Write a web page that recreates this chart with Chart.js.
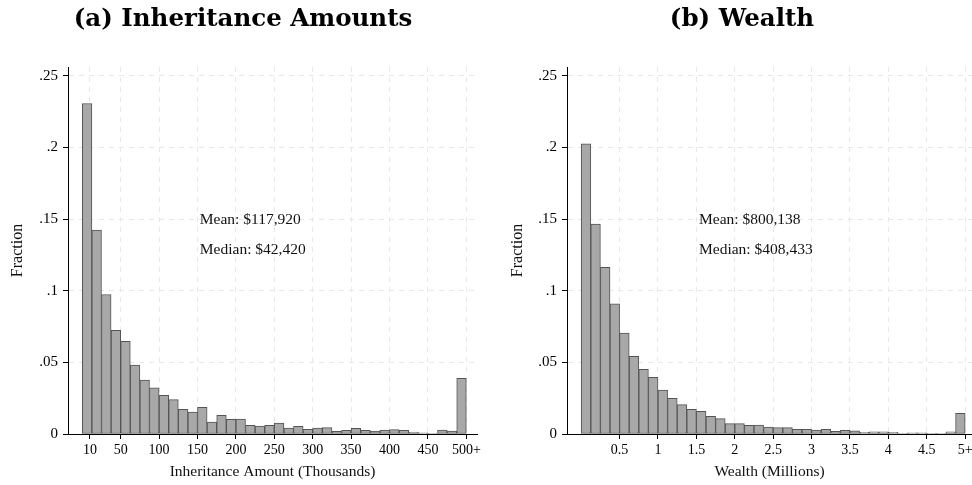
<!DOCTYPE html>
<html>
<head>
<meta charset="utf-8">
<script src="https://cdn.jsdelivr.net/npm/chart.js@4.4.1/dist/chart.umd.min.js"></script>
<style>
  html, body { margin: 0; padding: 0; background: #fff; overflow: hidden; }
  .panel { position: absolute; top: 0; width: 486px; height: 485px; }
  #panelA { left: 0; }
  #panelB { left: 486px; }
</style>
</head>
<body>
<div class="panel" id="panelA"><canvas id="chartA" width="486" height="485"></canvas></div>
<div class="panel" id="panelB"><canvas id="chartB" width="486" height="485"></canvas></div>
<script>
// fraction of people in each bin (last bin is the top-coded one)
const inhBinWidth = 12.5; // thousands
const inhShares = [
  0.2307, 0.1423, 0.0974, 0.0723, 0.0647, 0.0481, 0.0377, 0.0323, 0.0270, 0.0240,
  0.0172, 0.0153, 0.0186, 0.0084, 0.0130, 0.0102, 0.0105, 0.0060, 0.0056, 0.0060,
  0.0077, 0.0042, 0.0053, 0.0033, 0.0042, 0.0044, 0.0019, 0.0026, 0.0040, 0.0026,
  0.0021, 0.0028, 0.0030, 0.0026, 0.0014, 0.0009, 0.0005, 0.0028, 0.0020, 0.0388
];
const inhTicks = [10, 50, 100, 150, 200, 250, 300, 350, 400, 450, 500];

const wealthBinWidth = 0.125; // millions
const wealthShares = [
  0.2026, 0.1465, 0.1163, 0.0909, 0.0705, 0.0542, 0.0451, 0.0395, 0.0307, 0.0249,
  0.0205, 0.0172, 0.0158, 0.0123, 0.0107, 0.0072, 0.0072, 0.0060, 0.0063, 0.0049,
  0.0044, 0.0044, 0.0033, 0.0033, 0.0028, 0.0033, 0.0019, 0.0026, 0.0023, 0.0012,
  0.0016, 0.0016, 0.0012, 0.0005, 0.0009, 0.0009, 0.0005, 0.0005, 0.0016, 0.0144
];
const wealthTicks = [0.5, 1, 1.5, 2, 2.5, 3, 3.5, 4, 4.5, 5];

const yTicks = [0, 0.05, 0.1, 0.15, 0.2, 0.25];

const inhNotes = ['Mean: $117,920', 'Median: $42,420'];
const wealthNotes = ['Mean: $800,138', 'Median: $408,433'];

const serif = '"Liberation Serif", "Times New Roman", serif';
const gridColor = '#e8e8e8';

// panel heading + mean/median text
const textPlugin = {
  id: 'panelText',
  afterDatasetsDraw(chart, args, opts) {
    const ctx = chart.ctx;
    const xs = chart.scales.x, ys = chart.scales.y;
    ctx.save();
    ctx.fillStyle = '#111';
    ctx.font = '15.5px ' + serif;
    ctx.textAlign = 'left';
    ctx.textBaseline = 'middle';
    opts.notes.forEach((t, i) => {
      ctx.fillText(t, xs.getPixelForValue(opts.noteX), ys.getPixelForValue(opts.noteY[i]));
    });
    ctx.fillStyle = '#000';
    ctx.font = 'bold 24.5px "DejaVu Serif", serif';
    ctx.textAlign = 'center';
    ctx.textBaseline = 'alphabetic';
    ctx.fillText(opts.title, opts.titleX, 26);
    ctx.restore();
  }
};

function fracLabel(v) {
  if (v === 0) return '0';
  return String(+v.toFixed(2)).replace(/^0/, '');
}

function makeHist(id, cfg) {
  const points = cfg.shares.map((v, i) => ({ x: (i + 0.5) * cfg.binWidth, y: v }));
  return new Chart(document.getElementById(id), {
    type: 'bar',
    data: {
      datasets: [{
        data: points,
        backgroundColor: '#a8a8a8',
        borderColor: '#545454',
        borderWidth: 1,
        borderSkipped: false,
        barPercentage: 1,
        categoryPercentage: 1
      }]
    },
    options: {
      responsive: false,
      animation: false,
      layout: { padding: { top: 67, right: cfg.padRight, bottom: 0, left: 0 } },
      plugins: {
        legend: { display: false },
        tooltip: { enabled: false },
        panelText: { title: cfg.title, titleX: cfg.titleX, notes: cfg.notes, noteX: cfg.noteX, noteY: [0.1494, 0.1287] }
      },
      scales: {
        x: {
          type: 'linear',
          offset: false,
          min: cfg.xMin,
          max: cfg.xMax,
          afterBuildTicks: s => { s.ticks = cfg.ticks.map(v => ({ value: v })); },
          afterFit: s => { s.height = 51; s.paddingLeft = 0; s.paddingRight = 0; },
          ticks: {
            autoSkip: false, maxRotation: 0, padding: 3, color: '#000',
            font: { family: serif, size: 14 },
            callback: v => v === cfg.ticks[cfg.ticks.length - 1] ? v + '+' : v
          },
          grid: { offset: false, color: gridColor, tickColor: '#000', tickLength: 5, tickWidth: 1 },
          border: { color: '#000', width: 1, dash: [5, 5] },
          title: {
            display: true, text: cfg.xTitle, color: '#111',
            font: { family: serif, size: 15.5 }, padding: { top: 0, bottom: 4 }
          }
        },
        y: {
          type: 'linear',
          min: 0,
          max: 0.2562,
          afterBuildTicks: s => { s.ticks = yTicks.map(v => ({ value: v })); },
          afterFit: s => { s.width = cfg.yWidth; s.paddingTop = 0; s.paddingBottom = 0; },
          ticks: { padding: 5, color: '#000', font: { family: serif, size: 15 }, callback: fracLabel },
          grid: { color: gridColor, tickColor: '#000', tickLength: 5, tickWidth: 1 },
          border: { color: '#000', width: 1, dash: [5, 5] },
          title: {
            display: true, text: 'Fraction', color: '#111',
            font: { family: serif, size: 16 }, padding: { top: cfg.yTitlePad, bottom: 0 }
          }
        }
      }
    },
    plugins: [textPlugin]
  });
}

makeHist('chartA', {
  shares: inhShares, binWidth: inhBinWidth, ticks: inhTicks,
  xMin: -18.6, xMax: 513.9, padRight: 9, yWidth: 68, yTitlePad: 8,
  xTitle: 'Inheritance Amount (Thousands)',
  title: '(a) Inheritance Amounts', titleX: 243,
  notes: inhNotes, noteX: 153
});

makeHist('chartB', {
  shares: wealthShares, binWidth: wealthBinWidth, ticks: wealthTicks,
  xMin: -0.185, xMax: 5.089, padRight: 0, yWidth: 81, yTitlePad: 22,
  xTitle: 'Wealth (Millions)',
  title: '(b) Wealth', titleX: 256,
  notes: wealthNotes, noteX: 1.534
});
</script>
</body>
</html>
